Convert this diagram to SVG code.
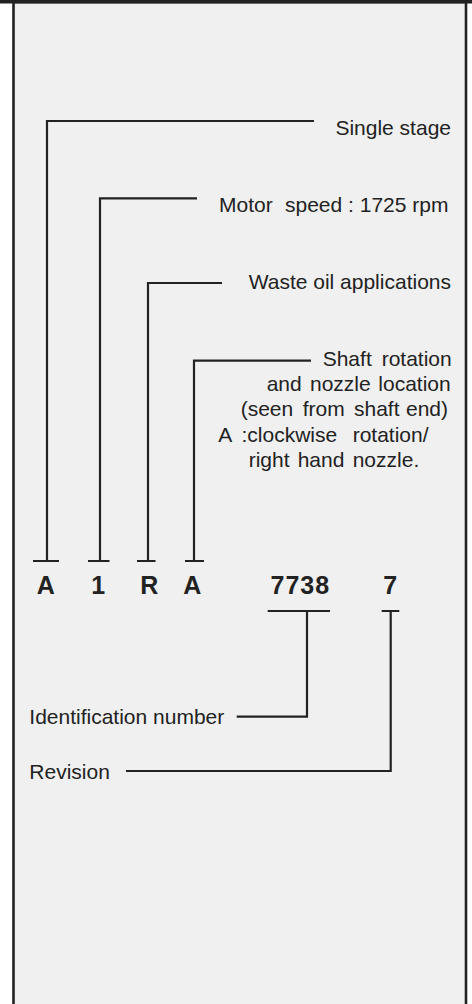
<svg xmlns="http://www.w3.org/2000/svg" width="472" height="1004" viewBox="0 0 472 1004">
<style>
.lbl{font-family:"Liberation Sans",Arial,sans-serif;font-size:21px;fill:#222}
.code{font-family:"Liberation Sans",Arial,sans-serif;font-size:25px;font-weight:bold;fill:#222;text-anchor:middle}
.ln{fill:none;stroke:#222;stroke-width:2.2;stroke-linejoin:miter;stroke-linecap:butt}
</style>
<rect x="0" y="0" width="472" height="1004" fill="#ffffff"/>
<g id="frame">
<rect x="13.5" y="2" width="452.5" height="1010" fill="#f0f0f0" stroke="#222" stroke-width="2.6"/>
<rect x="0" y="0" width="472" height="3.5" fill="#222"/>
</g>
<g id="connectors" class="ln">
<path class="ln" d="M314,121 H47 V561 M33,561 H59"/>
<path class="ln" d="M197,198.3 H100 V561 M88,561 H109.5"/>
<path class="ln" d="M222,283 H148 V561 M137,561 H155.5"/>
<path class="ln" d="M311,360.7 H194 V561 M185,561 H204"/>
<path class="ln" d="M267.7,611 H330 M307,611 V716.7 H236.7"/>
<path class="ln" d="M381.7,611 H399.3 M390.7,611 V771 H126"/>
</g>
<g id="code-A1"><text class="code" x="45.8" y="594">A</text></g>
<g id="code-1"><text class="code" x="98.3" y="594">1</text></g>
<g id="code-R"><text class="code" x="149.3" y="594">R</text></g>
<g id="code-A2"><text class="code" x="192.2" y="594">A</text></g>
<g id="code-7738"><text class="code" x="300.3" y="594" letter-spacing="1">7738</text></g>
<g id="code-7"><text class="code" x="390.3" y="594">7</text></g>
<g id="label-stage"><text class="lbl" x="451" y="135" text-anchor="end">Single stage</text></g>
<g id="label-speed"><text class="lbl" y="212"><tspan x="219">Motor</tspan><tspan x="285">speed : 1725 rpm</tspan></text></g>
<g id="label-waste"><text class="lbl" x="451" y="289" text-anchor="end">Waste oil applications</text></g>
<g id="label-rotation">
<text class="lbl" y="366"><tspan x="322.7">Shaft</tspan><tspan x="381.7">rotation</tspan></text>
<text class="lbl" y="391"><tspan x="266.7">and</tspan><tspan x="310">nozzle</tspan><tspan x="378.3">location</tspan></text>
<text class="lbl" y="416"><tspan x="240.7">(seen</tspan><tspan x="302.7">from</tspan><tspan x="354">shaft</tspan><tspan x="406">end)</tspan></text>
<text class="lbl" y="441.5"><tspan x="218.3">A</tspan><tspan x="241.5">:clockwise</tspan><tspan x="352.7">rotation/</tspan></text>
<text class="lbl" y="466.5"><tspan x="248.7">right</tspan><tspan x="297.7">hand</tspan><tspan x="352.7">nozzle.</tspan></text>
</g>
<g id="label-ident"><text class="lbl" x="29.3" y="724">Identification number</text></g>
<g id="label-revision"><text class="lbl" x="29.3" y="779">Revision</text></g>
</svg>
